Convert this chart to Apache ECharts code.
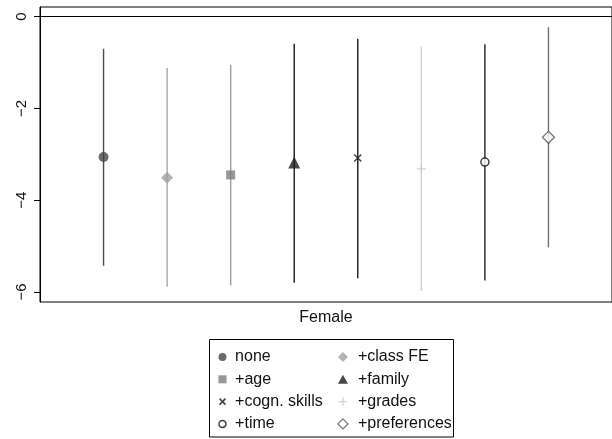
<!DOCTYPE html>
<html>
<head>
<meta charset="utf-8">
<script src="https://cdn.jsdelivr.net/npm/echarts@6/dist/echarts.min.js"></script>
<style>html,body{margin:0;padding:0;background:#fff;}#chart{width:612px;height:439px;}</style>
</head>
<body>
<div id="chart"></div>
<script>
// ---- data ----
const category = ['Female'];
const models = ['none', '+class FE', '+age', '+family', '+cogn. skills', '+grades', '+time', '+preferences'];
const coef   = [-3.06, -3.51, -3.45, -3.18, -3.08, -3.32, -3.17, -2.63];
const ciLow  = [-5.43, -5.89, -5.86, -5.80, -5.70, -5.98, -5.75, -5.03];
const ciHigh = [-0.70, -1.12, -1.05, -0.59, -0.48, -0.65, -0.60, -0.23];
const yTicks = [0, -2, -4, -6];

// ---- styles ----
const FONT = 'Liberation Sans, Arial, Helvetica, sans-serif';
const lineColors = ['#4a4a4a', '#a8a8a8', '#9c9c9c', '#1a1a1a', '#1a1a1a', '#d2d2d2', '#222222', '#707070'];
const markerStyles = [
  { symbol: 'circle', size: 10, legendIcon: 'path://M0,0M10,10M5,1A4,4,0,1,1,4.99,1Z', itemStyle: { color: '#454545' } },
  { symbol: 'diamond', size: 12, legendIcon: 'path://M5,0L10,5L5,10L0,5Z', itemStyle: { color: '#a0a0a0' } },
  { symbol: 'rect', size: 9, legendIcon: 'path://M0,0M10,10M1,1L9,1L9,9L1,9Z', itemStyle: { color: '#7e7e7e' } },
  { symbol: 'triangle', size: 12, legendIcon: 'path://M0,0M10,10M5,0.5L10,9.5L0,9.5Z', itemStyle: { color: '#1a1a1a' } },
  { symbol: 'path://M0,0L10,10M10,0L0,10', size: 7, legendIcon: 'path://M0,0M10,10M2,2L8,8M8,2L2,8', itemStyle: { color: 'transparent', borderColor: '#1a1a1a', borderWidth: 1.6 } },
  { symbol: 'path://M5,0L5,10M0,5L10,5', size: 9, legendIcon: 'path://M0,0M10,10M5,1L5,9M1,5L9,5', itemStyle: { color: 'transparent', borderColor: '#c8c8c8', borderWidth: 1.3 } },
  { symbol: 'circle', size: 8, legendIcon: 'path://M0,0M10,10M5,1.5A3.5,3.5,0,1,1,4.99,1.5Z', itemStyle: { color: '#ffffff', borderColor: '#111111', borderWidth: 1.5 } },
  { symbol: 'diamond', size: 12, legendIcon: 'path://M5,0L10,5L5,10L0,5Z', itemStyle: { color: '#ffffff', borderColor: '#555555', borderWidth: 1.3 } }
];

const nM = models.length;
const dodge = i => i - (nM - 1) / 2;

const series = [];
series.push({
  type: 'custom',
  name: 'ci',
  xAxisIndex: 1,
  yAxisIndex: 0,
  z: 2,
  silent: true,
  data: models.map((m, i) => [dodge(i), ciLow[i], ciHigh[i], i]),
  renderItem: function (params, api) {
    const x = api.value(0);
    const p1 = api.coord([x, api.value(1)]);
    const p2 = api.coord([x, api.value(2)]);
    return {
      type: 'line',
      shape: { x1: p1[0], y1: p1[1], x2: p2[0], y2: p2[1] },
      style: { stroke: lineColors[api.value(3)], lineWidth: 1.4 }
    };
  }
});
models.forEach((m, i) => {
  const s = {
    type: 'scatter',
    name: m,
    xAxisIndex: 1,
    yAxisIndex: 0,
    z: 5,
    symbol: markerStyles[i].symbol,
    symbolSize: markerStyles[i].size,
    itemStyle: markerStyles[i].itemStyle,
    data: [[dodge(i), coef[i]]]
  };
  if (i === 0) {
    s.markLine = {
      silent: true,
      symbol: 'none',
      label: { show: false },
      lineStyle: { color: '#000', width: 1.2, type: 'solid' },
      data: [{ yAxis: 0 }]
    };
  }
  series.push(s);
});

function legendItems(idx) {
  return idx.map(i => ({
    name: models[i],
    icon: markerStyles[i].legendIcon,
    itemStyle: markerStyles[i].itemStyle
  }));
}

const legendCommon = {
  orient: 'vertical',
  itemWidth: 10,
  itemHeight: 10,
  itemGap: 6.3,
  padding: 0,
  height: 92,
  selectedMode: false
};

const option = {
  backgroundColor: '#fff',
  animation: false,
  grid: {
    left: 40, top: 7, width: 583, height: 295,
    show: true, borderColor: '#000', borderWidth: 1, backgroundColor: 'transparent'
  },
  xAxis: [
    {
      type: 'category',
      data: category,
      gridIndex: 0,
      axisLine: { lineStyle: { color: '#000', width: 1 } },
      axisTick: { alignWithLabel: true, length: 5, lineStyle: { color: '#000' } },
      axisLabel: { fontFamily: FONT, fontSize: 16, color: '#111', margin: 8 }
    },
    {
      type: 'value',
      gridIndex: 0,
      min: -(nM + 1) / 2,
      max: (nM + 1) / 2,
      show: false
    }
  ],
  yAxis: {
    type: 'value',
    min: -6.22,
    max: 0.21,
    axisLine: { show: true, onZero: false, lineStyle: { color: '#000', width: 1 } },
    splitLine: { show: false },
    axisTick: { show: true, length: 6, customValues: yTicks, lineStyle: { color: '#000' } },
    axisLabel: {
      customValues: yTicks,
      rotate: 90,
      margin: 11,
      fontFamily: FONT,
      fontSize: 15,
      color: '#111',
      formatter: v => String(v).replace('-', '\u2212')
    }
  },
  legend: [
    Object.assign({}, legendCommon, {
      left: 216.7, top: 349, data: legendItems([0, 2, 4, 6]),
      textStyle: { fontFamily: FONT, fontSize: 16, color: '#111', lineHeight: 16, padding: [0, 0, 0, 2.6] }
    }),
    Object.assign({}, legendCommon, {
      left: 337.3, top: 349, data: legendItems([1, 3, 5, 7]),
      textStyle: { fontFamily: FONT, fontSize: 16, color: '#111', lineHeight: 16, padding: [0, 0, 0, 5] }
    })
  ],
  graphic: [
    {
      type: 'rect',
      shape: { x: 209.5, y: 339.5, width: 244, height: 97.5 },
      style: { fill: 'none', stroke: '#000', lineWidth: 1 },
      silent: true
    }
  ],
  series: series
};

const chart = echarts.init(document.getElementById('chart'), null, { renderer: 'canvas' });
chart.setOption(option);
</script>
</body>
</html>
